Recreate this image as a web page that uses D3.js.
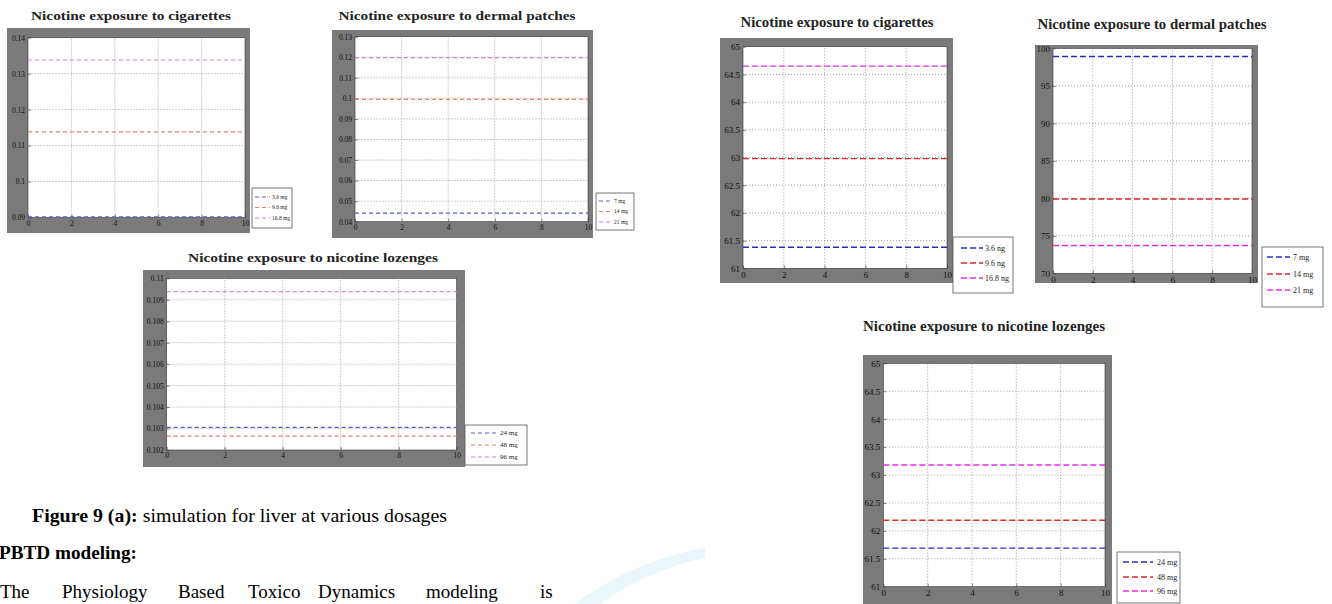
<!DOCTYPE html>
<html>
<head>
<meta charset="utf-8">
<script src="https://cdn.jsdelivr.net/npm/d3@7"></script>
<style>
  body { margin: 0; background: #fff; }
  svg { display: block; }
  svg text { font-family: "Times New Roman", "Liberation Serif", Times, serif; }
</style>
</head>
<body>
<script>
// time axis shared by every panel
var timeDomain = [0, 10];
var timeTicks = [0, 2, 4, 6, 8, 10];

// left set (small panels)
var cigLeftTicks = [0.09, 0.1, 0.11, 0.12, 0.13, 0.14];
var cigLeftDoses = ["3.6 mg", "9.6 mg", "16.8 mg"];
var cigLeftValues = [0.0902, 0.1138, 0.1338];

var dermLeftTicks = [0.04, 0.05, 0.06, 0.07, 0.08, 0.09, 0.1, 0.11, 0.12, 0.13];
var dermLeftDoses = ["7 mg", "14 mg", "21 mg"];
var dermLeftValues = [0.0442, 0.0995, 0.1198];

var lozLeftTicks = [0.102, 0.103, 0.104, 0.105, 0.106, 0.107, 0.108, 0.109, 0.11];
var lozLeftDoses = ["24 mg", "48 mg", "96 mg"];
var lozLeftValues = [0.10305, 0.10265, 0.10938];

// right set (larger panels)
var cigRightTicks = [61, 61.5, 62, 62.5, 63, 63.5, 64, 64.5, 65];
var cigRightDoses = ["3.6 ng", "9.6 ng", "16.8 ng"];
var cigRightValues = [61.38, 62.98, 64.65];

var dermRightTicks = [70, 75, 80, 85, 90, 95, 100];
var dermRightDoses = ["7 mg", "14 mg", "21 mg"];
var dermRightValues = [98.9, 79.9, 73.7];

var lozRightTicks = [61, 61.5, 62, 62.5, 63, 63.5, 64, 64.5, 65];
var lozRightDoses = ["24 mg", "48 mg", "96 mg"];
var lozRightValues = [61.69, 62.19, 63.18];

var paleColors = ["#5a5ad0", "#e8846a", "#e27ae2"];
var brightColors = ["#2a2ac8", "#e02828", "#e030e0"];

var svg = d3.select("body").append("svg")
    .attr("width", 1332)
    .attr("height", 604);

// faint watermark swoosh behind the caption
svg.append("path")
    .attr("d", "M575,604 C610,578 655,556 705,548 L705,558 C665,566 625,585 600,604 Z")
    .attr("fill", "#eaf6fa");

var panels = [
  { title: "Nicotine exposure to cigarettes", tx: 131, ty: 20, tsize: 13, tlen: 200,
    frame: [7, 28, 250, 233], plot: [28, 37.7, 245, 217.5],
    ticks: cigLeftTicks, values: cigLeftValues, doses: cigLeftDoses, colors: paleColors,
    tickSize: 7.5, lw: 1.2, dash: "4,3", grid: "#b8b8b8", gridDash: "2,1",
    legend: { x: 252, y: 188, w: 40, h: 40, rows: [197, 207.5, 218], s0: 255, s1: 270, tx: 272, size: 5.5 } },
  { title: "Nicotine exposure to dermal patches", tx: 457, ty: 20, tsize: 13, tlen: 237,
    frame: [332, 30, 593, 238], plot: [355, 36.7, 588, 221.7],
    ticks: dermLeftTicks, values: dermLeftValues, doses: dermLeftDoses, colors: paleColors,
    tickSize: 7.5, lw: 1.2, dash: "4,3", grid: "#b8b8b8", gridDash: "2,1",
    legend: { x: 596, y: 193, w: 38, h: 37, rows: [201, 211.5, 222], s0: 599, s1: 612, tx: 614, size: 5.5 } },
  { title: "Nicotine exposure to nicotine lozenges", tx: 313, ty: 262, tsize: 13, tlen: 250,
    frame: [143, 270, 465, 467], plot: [166.7, 278.3, 456.7, 450],
    ticks: lozLeftTicks, values: lozLeftValues, doses: lozLeftDoses, colors: paleColors,
    tickSize: 7.5, lw: 1.2, dash: "4,3", grid: "#b8b8b8", gridDash: "2,1",
    legend: { x: 465, y: 425, w: 62, h: 40, rows: [433, 445, 457], s0: 471, s1: 497, tx: 500, size: 7 } },
  { title: "Nicotine exposure to cigarettes", tx: 837, ty: 27, tsize: 15, tlen: 193,
    frame: [720, 38, 953, 283], plot: [743, 46.7, 947, 268.3],
    ticks: cigRightTicks, values: cigRightValues, doses: cigRightDoses, colors: brightColors,
    tickSize: 9, lw: 1.4, dash: "6,3", grid: "#777", gridDash: "1,2",
    legend: { x: 953, y: 237, w: 60, h: 56, rows: [248, 263, 278], s0: 961, s1: 983, tx: 985, size: 8 } },
  { title: "Nicotine exposure to dermal patches", tx: 1152, ty: 29, tsize: 15, tlen: 229,
    frame: [1035, 45, 1258, 283], plot: [1053, 48.3, 1252, 273.3],
    ticks: dermRightTicks, values: dermRightValues, doses: dermRightDoses, colors: brightColors,
    tickSize: 9, lw: 1.4, dash: "6,3", grid: "#777", gridDash: "1,2",
    legend: { x: 1262, y: 247, w: 61, h: 60, rows: [257, 274, 290], s0: 1267, s1: 1290, tx: 1293, size: 8 } },
  { title: "Nicotine exposure to nicotine lozenges", tx: 984, ty: 331, tsize: 15, tlen: 242,
    frame: [863, 355, 1112, 604], plot: [883.3, 363.3, 1105, 586.7],
    ticks: lozRightTicks, values: lozRightValues, doses: lozRightDoses, colors: brightColors,
    tickSize: 9, lw: 1.4, dash: "6,3", grid: "#777", gridDash: "1,2",
    legend: { x: 1117, y: 552, w: 63, h: 51, rows: [562, 577, 591], s0: 1123, s1: 1153, tx: 1157, size: 8 } }
];

panels.forEach(drawPanel);

function drawPanel(p) {
    var g = svg.append("g");
    var x = d3.scaleLinear().domain(timeDomain).range([p.plot[0], p.plot[2]]);
    var y = d3.scaleLinear().domain(d3.extent(p.ticks)).range([p.plot[3], p.plot[1]]);

    // title
    g.append("text")
        .attr("x", p.tx).attr("y", p.ty)
        .attr("text-anchor", "middle")
        .attr("font-weight", "bold")
        .attr("font-size", p.tsize)
        .attr("textLength", p.tlen)
        .attr("lengthAdjust", "spacingAndGlyphs")
        .attr("fill", "#222")
        .text(p.title);

    // grey matlab figure frame and white axes area
    g.append("rect")
        .attr("x", p.frame[0]).attr("y", p.frame[1])
        .attr("width", p.frame[2] - p.frame[0]).attr("height", p.frame[3] - p.frame[1])
        .attr("fill", "#7a7a7a");
    g.append("rect")
        .attr("x", x(timeDomain[0])).attr("y", y.range()[1])
        .attr("width", x(timeDomain[1]) - x(timeDomain[0]))
        .attr("height", y.range()[0] - y.range()[1])
        .attr("fill", "#fff")
        .attr("stroke", "#333").attr("stroke-width", 0.6);

    // grid lines
    g.selectAll(".gy").data(p.ticks.slice(1, -1)).enter().append("line")
        .attr("x1", x(timeDomain[0])).attr("x2", x(timeDomain[1]))
        .attr("y1", function(d) { return y(d); }).attr("y2", function(d) { return y(d); })
        .attr("stroke", p.grid).attr("stroke-width", 0.7)
        .attr("stroke-dasharray", p.gridDash);
    g.selectAll(".gx").data(timeTicks.slice(1, -1)).enter().append("line")
        .attr("x1", function(d) { return x(d); }).attr("x2", function(d) { return x(d); })
        .attr("y1", y.range()[0]).attr("y2", y.range()[1])
        .attr("stroke", p.grid).attr("stroke-width", 0.7)
        .attr("stroke-dasharray", p.gridDash);

    // axes, labels sit on the grey band
    var yaxis = d3.axisLeft(y).tickValues(p.ticks).tickSize(-3).tickPadding(3)
        .tickFormat(d3.format("~g"));
    var xaxis = d3.axisBottom(x).tickValues(timeTicks).tickSize(-3).tickPadding(3);

    var ya = g.append("g")
        .attr("transform", "translate(" + x(timeDomain[0]) + ",0)")
        .call(yaxis);
    var xa = g.append("g")
        .attr("transform", "translate(0," + y.range()[0] + ")")
        .call(xaxis);
    [ya, xa].forEach(function(a) {
        a.attr("font-family", null);
        a.select(".domain").remove();
        a.selectAll("line").attr("stroke", "#333").attr("stroke-width", 0.6);
        a.selectAll("text")
            .attr("font-size", p.tickSize)
            .attr("fill", "#111");
    });

    // dose lines
    var line = d3.line()
        .x(function(d) { return x(d[0]); })
        .y(function(d) { return y(d[1]); });

    g.selectAll(".dose").data(p.values).enter().append("path")
        .attr("d", function(v) { return line([[timeDomain[0], v], [timeDomain[1], v]]); })
        .attr("fill", "none")
        .attr("stroke", function(v, i) { return p.colors[i]; })
        .attr("stroke-width", p.lw)
        .attr("stroke-dasharray", p.dash);

    // legend
    var L = p.legend;
    g.append("rect")
        .attr("x", L.x).attr("y", L.y).attr("width", L.w).attr("height", L.h)
        .attr("fill", "#fff").attr("stroke", "#555").attr("stroke-width", 0.8);
    var rows = g.selectAll(".lg").data(p.doses).enter().append("g");
    rows.append("line")
        .attr("x1", L.s0).attr("x2", L.s1)
        .attr("y1", function(d, i) { return L.rows[i]; })
        .attr("y2", function(d, i) { return L.rows[i]; })
        .attr("stroke", function(d, i) { return p.colors[i]; })
        .attr("stroke-width", p.lw)
        .attr("stroke-dasharray", p.dash);
    rows.append("text")
        .attr("x", L.tx)
        .attr("y", function(d, i) { return L.rows[i]; })
        .attr("dy", "0.35em")
        .attr("font-size", L.size)
        .attr("fill", "#222")
        .text(function(d) { return d; });
}

// caption and body text
var caption = svg.append("text")
    .attr("x", 32).attr("y", 522)
    .attr("font-size", 19)
    .attr("textLength", 415)
    .attr("lengthAdjust", "spacingAndGlyphs")
    .attr("fill", "#000");
caption.append("tspan").attr("font-weight", "bold").text("Figure 9 (a):");
caption.append("tspan").text(" simulation for liver at various dosages");

svg.append("text")
    .attr("x", -1).attr("y", 559)
    .attr("font-size", 19)
    .attr("font-weight", "bold")
    .attr("textLength", 138)
    .attr("lengthAdjust", "spacingAndGlyphs")
    .text("PBTD modeling:");

var bodyWords = ["The", "Physiology", "Based", "Toxico", "Dynamics", "modeling", "is"];
var bodyX = [0, 62, 178, 248, 318, 426, 540];
svg.selectAll(".bw").data(bodyWords).enter().append("text")
    .attr("x", function(d, i) { return bodyX[i]; })
    .attr("y", 598)
    .attr("font-size", 19)
    .text(function(d) { return d; });
</script>
</body>
</html>
